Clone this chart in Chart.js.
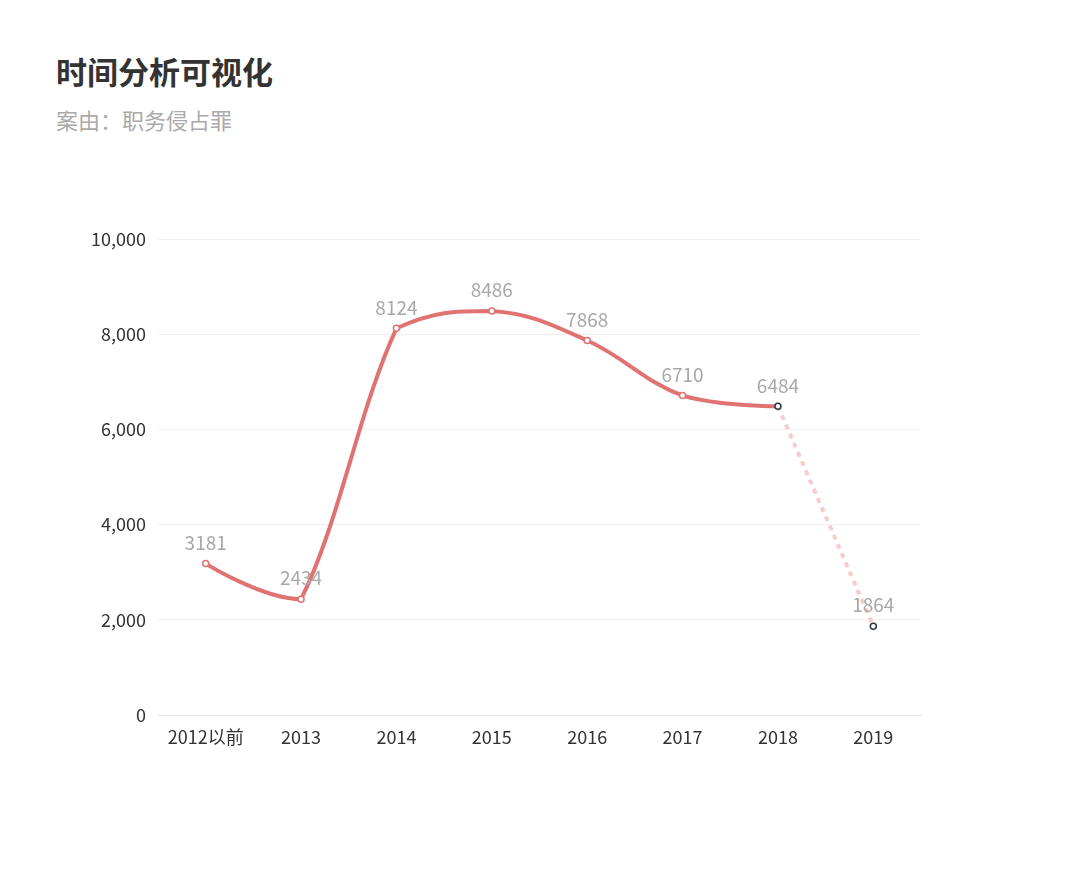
<!DOCTYPE html>
<html>
<head>
<meta charset="utf-8">
<script src="https://cdn.jsdelivr.net/npm/chart.js@4/dist/chart.umd.min.js"></script>
<style>
    html, body { margin: 0; padding: 0; background: #fff; }
    body { width: 1080px; height: 874px; position: relative; overflow: hidden; font-family: "Noto Sans CJK SC", sans-serif; }
    #title { position: absolute; left: 56px; top: 50px; font-size: 31px; font-weight: bold; color: #333; line-height: 42px; }
    #subtitle { position: absolute; left: 56px; top: 104px; font-size: 22px; color: #aaa; line-height: 30px; }
    #wrap { position: absolute; left: 0; top: 0; width: 1080px; height: 874px; }
</style>
</head>
<body>
<div id="title">时间分析可视化</div>
<div id="subtitle">案由：职务侵占罪</div>
<div id="wrap"><canvas id="timeChart"></canvas></div>
<script>
const categories = ['2012以前', '2013', '2014', '2015', '2016', '2017', '2018', '2019'];
const caseCounts = [3181, 2434, 8124, 8486, 7868, 6710, 6484, 1864];
const yTicks = [0, 2000, 4000, 6000, 8000, 10000];

const lineColor = '#e07272';
const dashColor = '#f7cccc';
const fontFamily = '"Noto Sans CJK SC", sans-serif';
const lastIndex = caseCounts.length - 1;

function clamp(v, a, b) {
    return Math.min(Math.max(v, Math.min(a, b)), Math.max(a, b));
}

// smoothing: tangent leans to the longer neighbour chord, control points kept
// inside each segment's y range. Solid part ends at 2018, last step is straight.
const smoothCurve = {
    id: 'smoothCurve',
    beforeDatasetsDraw(chart) {
        const line = chart.getDatasetMeta(0).dataset;
        line.updateControlPoints(chart.chartArea, 'x');
        const pts = line.points;
        const solidEnd = lastIndex - 1;
        const f = 0.4;
        pts.forEach(p => {
            p.cp1x = p.x; p.cp1y = p.y;
            p.cp2x = p.x; p.cp2y = p.y;
        });
        for (let i = 1; i < solidEnd; i++) {
            const prev = pts[i - 1], p = pts[i], next = pts[i + 1];
            const ax = p.x - prev.x, ay = p.y - prev.y;
            const bx = next.x - p.x, by = next.y - p.y;
            const la = Math.hypot(ax, ay), lb = Math.hypot(bx, by);
            const wa = la * la, wb = lb * lb;
            const dx = ax / la * wa + bx / lb * wb;
            const dy = ay / la * wa + by / lb * wb;
            const slope = dy / dx;
            p.cp1x = p.x - ax * f;
            p.cp1y = clamp(p.y - slope * ax * f, prev.y, p.y);
            p.cp2x = p.x + bx * f;
            p.cp2y = clamp(p.y + slope * bx * f, p.y, next.y);
        }
        line._path = undefined;
    }
};

// draw value labels above each point
const valueLabels = {
    id: 'valueLabels',
    afterDatasetsDraw(chart) {
        const ctx = chart.ctx;
        const meta = chart.getDatasetMeta(0);
        ctx.save();
        ctx.font = '19px ' + fontFamily;
        ctx.fillStyle = '#a8a8a8';
        ctx.textAlign = 'center';
        ctx.textBaseline = 'middle';
        meta.data.forEach((pt, i) => {
            ctx.fillText(String(caseCounts[i]), pt.x, pt.y - 21);
        });
        ctx.restore();
    }
};

new Chart(document.getElementById('timeChart').getContext('2d'), {
    type: 'line',
    data: {
        labels: categories,
        datasets: [{
            data: caseCounts,
            borderColor: lineColor,
            borderWidth: 4,
            tension: 0.4,
            pointRadius: 3,
            pointBorderWidth: 1.5,
            pointBackgroundColor: '#fff',
            pointBorderColor: caseCounts.map((v, i) => i >= lastIndex - 1 ? '#2b3a4a' : lineColor),
            segment: {
                borderColor: c => c.p1DataIndex === lastIndex ? dashColor : lineColor,
                borderDash: c => c.p1DataIndex === lastIndex ? [5, 5] : []
            }
        }]
    },
    options: {
        responsive: true,
        maintainAspectRatio: false,
        animation: false,
        layout: { padding: { left: 0, right: 159, top: 239, bottom: 109 } },
        plugins: {
            legend: { display: false },
            tooltip: { enabled: false }
        },
        scales: {
            x: {
                offset: true,
                afterFit: s => { s.height = 50; },
                grid: { display: false, drawTicks: false },
                border: { display: true, color: '#e6e6e6', width: 1 },
                ticks: { color: '#333', font: { size: 18, family: fontFamily }, padding: 11, maxRotation: 0 }
            },
            y: {
                min: 0,
                max: 10000,
                afterFit: s => { s.width = 158; },
                afterBuildTicks: s => { s.ticks = yTicks.map(v => ({ value: v })); },
                grid: { color: '#f0f0f0', drawTicks: false },
                border: { display: false },
                ticks: {
                    color: '#333',
                    padding: 12,
                    font: { size: 18, family: fontFamily },
                    callback: v => v.toLocaleString('en-US')
                }
            }
        }
    },
    plugins: [smoothCurve, valueLabels]
});
</script>
</body>
</html>
